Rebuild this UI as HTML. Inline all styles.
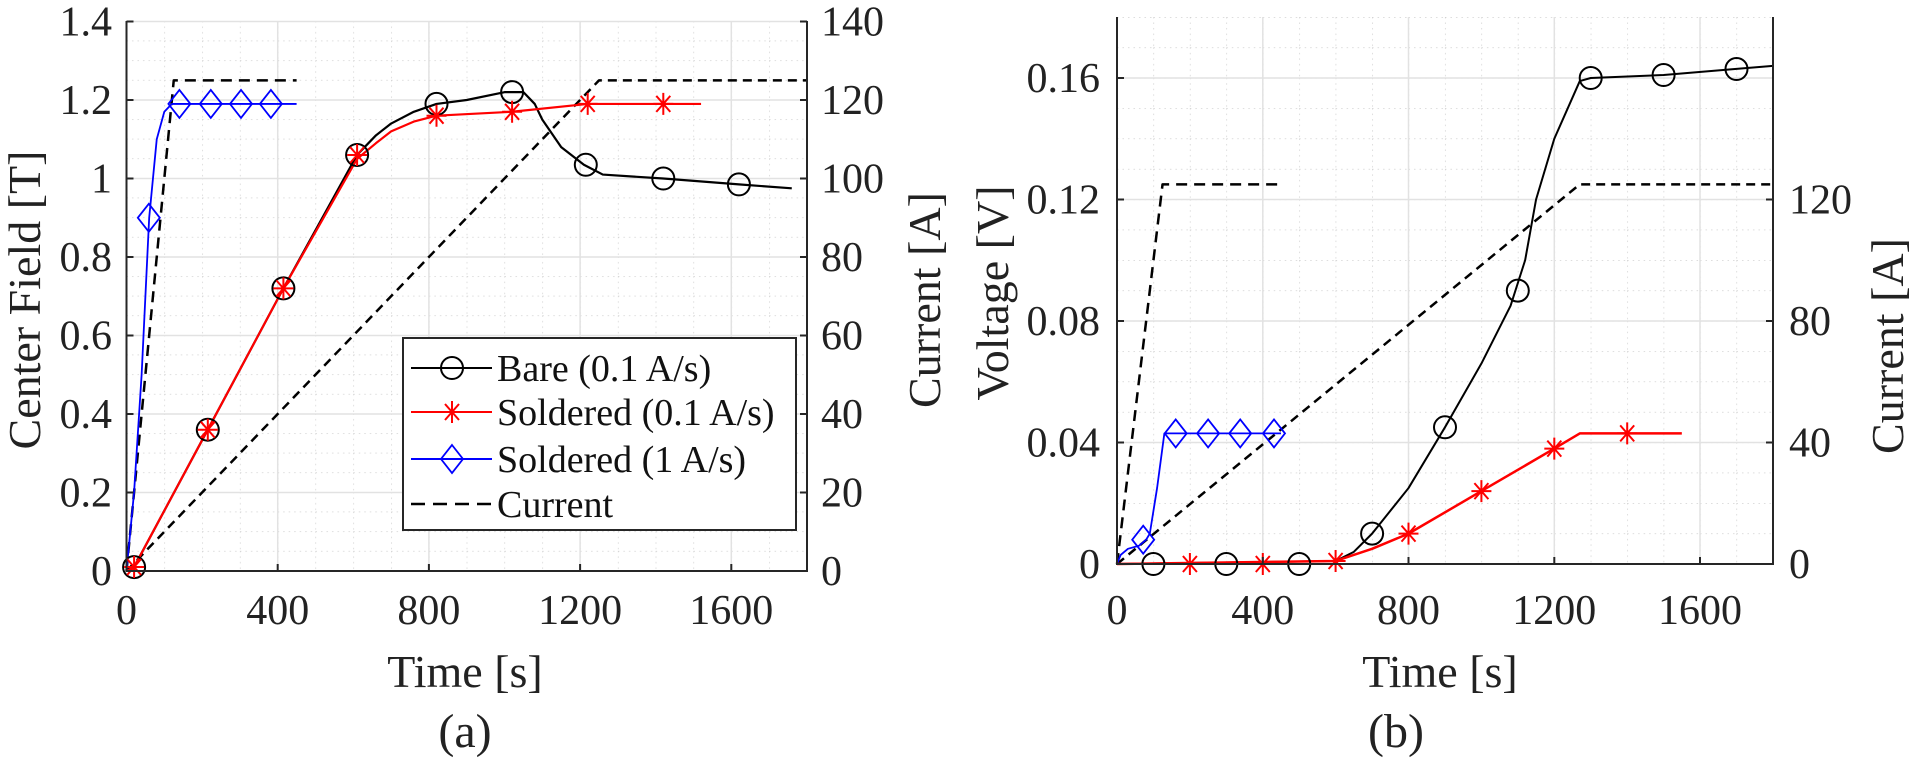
<!DOCTYPE html>
<html><head><meta charset="utf-8"><style>
html,body{margin:0;padding:0;background:#fff;}
svg{display:block;}
text{font-family:"Liberation Serif","DejaVu Serif","Times New Roman",serif;}
</style></head><body>
<svg width="1920" height="767" viewBox="0 0 1920 767" xmlns="http://www.w3.org/2000/svg" font-family="Liberation Serif, DejaVu Serif, serif">
<defs>
<pattern id="mg1" patternUnits="userSpaceOnUse" x="126.5" y="21" width="37.8" height="19.625">
<path d="M0 0 V19.625 M0 0 H37.8" stroke="#c8c8c8" stroke-width="1.2" stroke-dasharray="1.5 4" fill="none"/></pattern>
<pattern id="mg2" patternUnits="userSpaceOnUse" x="1117" y="17" width="36.44" height="30.375">
<path d="M0 0 V30.375 M0 0 H36.44" stroke="#c8c8c8" stroke-width="1.2" stroke-dasharray="1.5 4" fill="none"/></pattern>
<g id="circ"><circle r="11" fill="none" stroke="#000" stroke-width="2"/></g>
<g id="star"><path d="M-10 0H10M0 -11V11M-7 -8L7 8M-7 8L7 -8" stroke="#f00" stroke-width="2" fill="none"/></g>
<g id="dia"><path d="M0 -14L11 0L0 14L-11 0Z" stroke="#00f" stroke-width="1.8" fill="none"/></g>
</defs>

<!-- LEFT PLOT -->
<rect x="126.5" y="21" width="680.5" height="550" fill="url(#mg1)"/>
<g stroke="#e2e2e2" stroke-width="1.5">
<path d="M277.7 21V571M428.9 21V571M580.1 21V571M731.3 21V571"/>
<path d="M126.5 492.5H807M126.5 414H807M126.5 335.5H807M126.5 257H807M126.5 178.5H807M126.5 100H807M126.5 21.5H807"/>
</g>
<g fill="none" stroke-linejoin="round">
<g transform="translate(126.5,571) scale(0.378,-392.5)">
<polyline vector-effect="non-scaling-stroke" stroke="#000" stroke-width="2.5" stroke-dasharray="11 7" points="0,0 125,1.25 450,1.25"/>
<polyline vector-effect="non-scaling-stroke" stroke="#000" stroke-width="2.5" stroke-dasharray="9 6" points="0,0 1250,1.25 1800,1.25"/>
<polyline vector-effect="non-scaling-stroke" stroke="#00f" stroke-width="1.8" points="0,0 20,0.2 40,0.5 60,0.9 80,1.1 100,1.17 120,1.19 450,1.19"/>
<polyline vector-effect="non-scaling-stroke" stroke="#000" stroke-width="2.2" points="0,0 20,0.01 215,0.36 415,0.72 610,1.06 660,1.11 700,1.14 760,1.17 820,1.19 900,1.2 1000,1.22 1050,1.22 1080,1.19 1100,1.15 1150,1.08 1210,1.035 1260,1.01 1420,1.0 1620,0.985 1760,0.975"/>
<polyline vector-effect="non-scaling-stroke" stroke="#f00" stroke-width="2.2" points="0,0 20,0.01 215,0.36 415,0.72 610,1.05 660,1.09 700,1.12 760,1.145 820,1.16 1020,1.17 1220,1.19 1420,1.19 1520,1.19"/>
</g>
</g>
<use href="#circ" x="134.1" y="567.1"/><use href="#circ" x="207.8" y="429.7"/><use href="#circ" x="283.4" y="288.4"/><use href="#circ" x="357.1" y="155"/><use href="#circ" x="436.5" y="103.9"/><use href="#circ" x="512.1" y="92.1"/><use href="#circ" x="585.8" y="164.8"/><use href="#circ" x="663.3" y="178.5"/><use href="#circ" x="738.9" y="184.4"/>
<use href="#star" x="134.1" y="567"/><use href="#star" x="207.8" y="429.7"/><use href="#star" x="283.4" y="288.4"/><use href="#star" x="357.1" y="155"/><use href="#star" x="436.5" y="115.7"/><use href="#star" x="512.1" y="111.8"/><use href="#star" x="587.7" y="103.9"/><use href="#star" x="663.3" y="103.9"/>
<use href="#dia" x="148.8" y="217.8"/><use href="#dia" x="179.4" y="103.9"/><use href="#dia" x="210.8" y="103.9"/><use href="#dia" x="241" y="103.9"/><use href="#dia" x="270.9" y="103.9"/>
<g stroke="#262626" stroke-width="2" fill="none">
<path d="M126.5 21V571H807V21"/>
<path d="M277.7 571v-7M428.9 571v-7M580.1 571v-7M731.3 571v-7"/>
<path d="M126.5 492.5h7M126.5 414h7M126.5 335.5h7M126.5 257h7M126.5 178.5h7M126.5 100h7M126.5 21.5h7"/>
<path d="M807 492.5h-7M807 414h-7M807 335.5h-7M807 257h-7M807 178.5h-7M807 100h-7M807 21.5h-7"/>
</g>
<g font-size="42" fill="#222" text-anchor="end" font-family="Liberation Serif, DejaVu Serif, serif">
<text x="112" y="585">0</text><text x="112" y="506.5">0.2</text><text x="112" y="428">0.4</text><text x="112" y="349.5">0.6</text><text x="112" y="271">0.8</text><text x="112" y="192.5">1</text><text x="112" y="114">1.2</text><text x="112" y="35.5">1.4</text>
</g>
<g font-size="42" fill="#222" font-family="Liberation Serif, DejaVu Serif, serif">
<text x="821" y="585">0</text><text x="821" y="506.5">20</text><text x="821" y="428">40</text><text x="821" y="349.5">60</text><text x="821" y="271">80</text><text x="821" y="192.5">100</text><text x="821" y="114">120</text><text x="821" y="35.5">140</text>
</g>
<g font-size="42" fill="#222" text-anchor="middle" font-family="Liberation Serif, DejaVu Serif, serif">
<text x="126.5" y="624">0</text><text x="277.7" y="624">400</text><text x="428.9" y="624">800</text><text x="580.1" y="624">1200</text><text x="731.3" y="624">1600</text>
<text x="465" y="687" font-size="46">Time [s]</text>
<text x="465" y="747" font-size="48">(a)</text>
<text transform="translate(40,300) rotate(-90)" font-size="46">Center Field [T]</text>
<text transform="translate(940,300) rotate(-90)" font-size="46">Current [A]</text>
</g>
<rect x="403" y="338" width="393" height="192" fill="#fff" stroke="#262626" stroke-width="2"/>
<g fill="none">
<path d="M411 368H492" stroke="#000" stroke-width="2"/><use href="#circ" x="452" y="368"/>
<path d="M411 412H492" stroke="#f00" stroke-width="2"/><use href="#star" x="452" y="412"/>
<path d="M411 459H492" stroke="#00f" stroke-width="2"/><use href="#dia" x="452" y="459"/>
<path d="M411 504H492" stroke="#000" stroke-width="2.5" stroke-dasharray="14 8"/>
</g>
<g font-size="38" fill="#111" font-family="Liberation Serif, DejaVu Serif, serif">
<text x="497" y="381">Bare (0.1 A/s)</text>
<text x="497" y="425">Soldered (0.1 A/s)</text>
<text x="497" y="472">Soldered (1 A/s)</text>
<text x="497" y="517">Current</text>
</g>

<!-- RIGHT PLOT -->
<rect x="1117" y="17" width="656" height="547" fill="url(#mg2)"/>
<g stroke="#e2e2e2" stroke-width="1.5">
<path d="M1262.8 17V564M1408.5 17V564M1554.3 17V564M1700 17V564"/>
<path d="M1117 442.5H1773M1117 321H1773M1117 199.5H1773M1117 78H1773"/>
</g>
<g fill="none" stroke-linejoin="round">
<g transform="translate(1117,564) scale(0.3644,-3037.5)">
<polyline vector-effect="non-scaling-stroke" stroke="#000" stroke-width="2.5" stroke-dasharray="11 7" points="0,0 125,0.125 450,0.125"/>
<polyline vector-effect="non-scaling-stroke" stroke="#000" stroke-width="2.5" stroke-dasharray="9 6" points="0,0 1270,0.125 1800,0.125"/>
<polyline vector-effect="non-scaling-stroke" stroke="#00f" stroke-width="1.8" points="0,0 10,0.003 30,0.005 60,0.006 80,0.008 90,0.01 110,0.025 130,0.043 450,0.043"/>
<polyline vector-effect="non-scaling-stroke" stroke="#000" stroke-width="2" points="0,0 600,0.001 650,0.004 700,0.01 800,0.025 900,0.045 1000,0.066 1080,0.085 1120,0.10 1150,0.12 1200,0.14 1270,0.159 1300,0.16 1500,0.161 1700,0.163 1800,0.164"/>
<polyline vector-effect="non-scaling-stroke" stroke="#f00" stroke-width="2.5" points="0,0 600,0.001 700,0.005 800,0.01 1000,0.024 1200,0.038 1270,0.043 1550,0.043"/>
</g>
</g>
<use href="#circ" x="1153.4" y="564"/><use href="#circ" x="1226.3" y="564"/><use href="#circ" x="1299.2" y="564"/><use href="#circ" x="1372.1" y="533.6"/><use href="#circ" x="1445" y="427.3"/><use href="#circ" x="1517.8" y="290.6"/><use href="#circ" x="1590.7" y="78"/><use href="#circ" x="1663.6" y="75"/><use href="#circ" x="1736.5" y="69"/>
<use href="#star" x="1189.9" y="564"/><use href="#star" x="1262.8" y="564"/><use href="#star" x="1335.6" y="561"/><use href="#star" x="1408.5" y="533.6"/><use href="#star" x="1481.4" y="491.1"/><use href="#star" x="1554.3" y="448.6"/><use href="#star" x="1627.2" y="433.4"/>
<use href="#dia" x="1143.2" y="539.7"/><use href="#dia" x="1175.7" y="433.4"/><use href="#dia" x="1208.1" y="433.4"/><use href="#dia" x="1240.2" y="433.4"/><use href="#dia" x="1274" y="433.4"/>
<g stroke="#262626" stroke-width="2" fill="none">
<path d="M1117 17V564H1773V17"/>
<path d="M1262.8 564v-7M1408.5 564v-7M1554.3 564v-7M1700 564v-7"/>
<path d="M1117 442.5h7M1117 321h7M1117 199.5h7M1117 78h7"/>
<path d="M1773 442.5h-7M1773 321h-7M1773 199.5h-7"/>
</g>
<g font-size="42" fill="#222" text-anchor="end" font-family="Liberation Serif, DejaVu Serif, serif">
<text x="1100" y="578">0</text><text x="1100" y="456.5">0.04</text><text x="1100" y="335">0.08</text><text x="1100" y="213.5">0.12</text><text x="1100" y="92">0.16</text>
</g>
<g font-size="42" fill="#222" font-family="Liberation Serif, DejaVu Serif, serif">
<text x="1789" y="578">0</text><text x="1789" y="456.5">40</text><text x="1789" y="335">80</text><text x="1789" y="213.5">120</text>
</g>
<g font-size="42" fill="#222" text-anchor="middle" font-family="Liberation Serif, DejaVu Serif, serif">
<text x="1117" y="624">0</text><text x="1262.8" y="624">400</text><text x="1408.5" y="624">800</text><text x="1554.3" y="624">1200</text><text x="1700" y="624">1600</text>
<text x="1440" y="687" font-size="46">Time [s]</text>
<text x="1396" y="747" font-size="48">(b)</text>
<text transform="translate(1008,293) rotate(-90)" font-size="46">Voltage [V]</text>
<text transform="translate(1903,346) rotate(-90)" font-size="46">Current [A]</text>
</g>
</svg>
</body></html>
